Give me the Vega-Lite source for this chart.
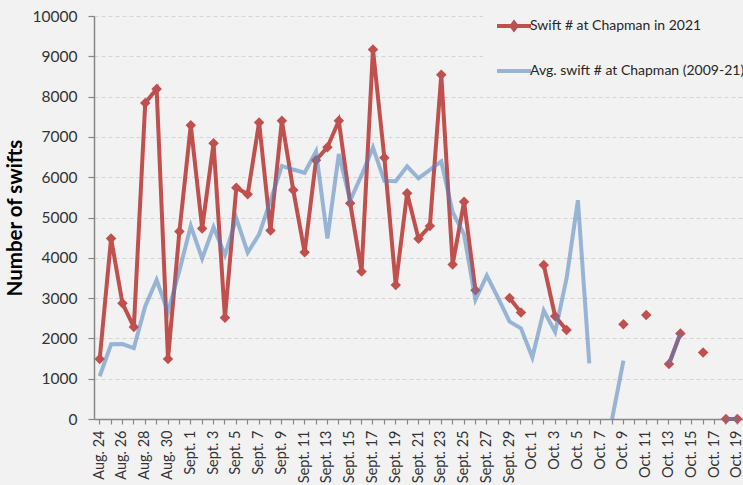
{
  "$schema": "https://vega.github.io/schema/vega-lite/v6.json",
  "width": 649,
  "height": 403,
  "autosize": {"type": "none"},
  "padding": {"left": 94, "top": 16, "right": 0, "bottom": 66},
  "background": "#f2f2f2",
  "config": {
    "view": {"stroke": null},
    "font": "Lato",
    "axis": {
      "domainColor": "#878787",
      "domainWidth": 1.5,
      "tickColor": "#878787",
      "tickWidth": 1.2,
      "labelColor": "#333333",
      "labelFont": "Lato",
      "titleFont": "Lato"
    },
    "axisX": {
      "labelAngle": -90,
      "labelFontSize": 14.5,
      "tickSize": 5,
      "labelPadding": 6,
      "grid": false,
      "tickOffset": -5.69
    },
    "axisY": {
      "labelFontSize": 15.5,
      "tickSize": 6,
      "labelPadding": 11,
      "grid": true,
      "gridColor": "#d4d4d4",
      "gridDash": [4, 3],
      "gridWidth": 1,
      "titleFontSize": 20.5,
      "titleFontWeight": "bold",
      "titleColor": "#000000",
      "titlePadding": 7
    }
  },
  "data": {
    "values": [
      {"day": "Aug. 24", "y2021": 1490, "avg": 1060},
      {"day": "Aug. 25", "y2021": 4480, "avg": 1855},
      {"day": "Aug. 26", "y2021": 2870, "avg": 1860},
      {"day": "Aug. 27", "y2021": 2280, "avg": 1760},
      {"day": "Aug. 28", "y2021": 7840, "avg": 2800},
      {"day": "Aug. 29", "y2021": 8190, "avg": 3450},
      {"day": "Aug. 30", "y2021": 1490, "avg": 2660},
      {"day": "Aug. 31", "y2021": 4650, "avg": 3680},
      {"day": "Sept. 1", "y2021": 7290, "avg": 4790},
      {"day": "Sept. 2", "y2021": 4730, "avg": 3980},
      {"day": "Sept. 3", "y2021": 6840, "avg": 4760},
      {"day": "Sept. 4", "y2021": 2510, "avg": 4070},
      {"day": "Sept. 5", "y2021": 5740, "avg": 4980},
      {"day": "Sept. 6", "y2021": 5575, "avg": 4130},
      {"day": "Sept. 7", "y2021": 7360, "avg": 4580},
      {"day": "Sept. 8", "y2021": 4680, "avg": 5420},
      {"day": "Sept. 9", "y2021": 7400, "avg": 6280},
      {"day": "Sept. 10", "y2021": 5680, "avg": 6190},
      {"day": "Sept. 11", "y2021": 4135, "avg": 6110},
      {"day": "Sept. 12", "y2021": 6420, "avg": 6640},
      {"day": "Sept. 13", "y2021": 6745, "avg": 4480},
      {"day": "Sept. 14", "y2021": 7400, "avg": 6575},
      {"day": "Sept. 15", "y2021": 5355, "avg": 5420},
      {"day": "Sept. 16", "y2021": 3660, "avg": 6050},
      {"day": "Sept. 17", "y2021": 9170, "avg": 6740},
      {"day": "Sept. 18", "y2021": 6485, "avg": 5910},
      {"day": "Sept. 19", "y2021": 3325, "avg": 5900},
      {"day": "Sept. 20", "y2021": 5600, "avg": 6270},
      {"day": "Sept. 21", "y2021": 4475, "avg": 5970},
      {"day": "Sept. 22", "y2021": 4790, "avg": 6180},
      {"day": "Sept. 23", "y2021": 8540, "avg": 6390},
      {"day": "Sept. 24", "y2021": 3835, "avg": 5130},
      {"day": "Sept. 25", "y2021": 5390, "avg": 4580},
      {"day": "Sept. 26", "y2021": 3195, "avg": 2960},
      {"day": "Sept. 27", "y2021": null, "avg": 3560},
      {"day": "Sept. 28", "y2021": null, "avg": 3000},
      {"day": "Sept. 29", "y2021": 3000, "avg": 2415},
      {"day": "Sept. 30", "y2021": 2640, "avg": 2250},
      {"day": "Oct. 1", "y2021": null, "avg": 1530},
      {"day": "Oct. 2", "y2021": 3820, "avg": 2690},
      {"day": "Oct. 3", "y2021": 2550, "avg": 2160},
      {"day": "Oct. 4", "y2021": 2210, "avg": 3480},
      {"day": "Oct. 5", "y2021": null, "avg": 5430},
      {"day": "Oct. 6", "y2021": null, "avg": 1380},
      {"day": "Oct. 7", "y2021": null, "avg": null},
      {"day": "Oct. 8", "y2021": null, "avg": 0},
      {"day": "Oct. 9", "y2021": 2350, "avg": 1450},
      {"day": "Oct. 10", "y2021": null, "avg": null},
      {"day": "Oct. 11", "y2021": 2580, "avg": null},
      {"day": "Oct. 12", "y2021": null, "avg": null},
      {"day": "Oct. 13", "y2021": 1365, "avg": 1365},
      {"day": "Oct. 14", "y2021": 2120, "avg": 2120},
      {"day": "Oct. 15", "y2021": null, "avg": null},
      {"day": "Oct. 16", "y2021": 1650, "avg": null},
      {"day": "Oct. 17", "y2021": null, "avg": null},
      {"day": "Oct. 18", "y2021": 0, "avg": 0},
      {"day": "Oct. 19", "y2021": 0, "avg": 0}
    ]
  },
  "encoding": {
    "x": {
      "field": "day",
      "type": "ordinal",
      "sort": null,
      "scale": {"type": "band", "paddingInner": 0, "paddingOuter": 0},
      "axis": {
        "title": null,
        "labelExpr": "isString(datum.value) && ((indexof(datum.value, 'Aug') == 0) == (toNumber(slice(datum.value, lastindexof(datum.value, ' ') + 1)) % 2 == 0)) ? datum.label : ''"
      }
    }
  },
  "layer": [
    {
      "mark": {"type": "line", "strokeWidth": 4},
      "encoding": {
        "y": {
          "field": "y2021",
          "type": "quantitative",
          "scale": {"domain": [0, 10000], "nice": false},
          "axis": {"title": "Number of swifts", "values": [0, 1000, 2000, 3000, 4000, 5000, 6000, 7000, 8000, 9000, 10000], "format": "d"}
        },
        "color": {
          "datum": "Swift # at Chapman in 2021",
          "type": "nominal",
          "scale": {
            "domain": ["Swift # at Chapman in 2021", "Avg. swift # at Chapman (2009-21)"],
            "range": ["#C0504D", "#4F81BD"]
          },
          "legend": {
            "title": null,
            "orient": "none",
            "legendX": 389,
            "legendY": -14,
            "padding": 12,
            "fillColor": "#f2f2f2",
            "labelFont": "Lato",
            "labelFontSize": 14,
            "labelColor": "#262626",
            "labelLimit": 400,
            "labelOffset": 11,
            "rowPadding": 21,
            "symbolType": "M-1,0H2.4",
            "symbolSize": 400,
            "symbolStrokeWidth": 4,
            "encode": {
              "symbols": {
                "update": {
                  "shape": {"signal": "datum.value === 'Swift # at Chapman in 2021' ? 'M-1,0H2.4M0.7,-0.32L0.95,0L0.7,0.32L0.45,0Z' : 'M-1,0H2.4'"},
                  "fill": {"signal": "datum.value === 'Swift # at Chapman in 2021' ? '#C0504D' : 'transparent'"},
                  "stroke": {"signal": "datum.value === 'Swift # at Chapman in 2021' ? '#C0504D' : '#4F81BD'"},
                  "strokeWidth": {"value": 4},
                  "opacity": {"signal": "datum.value === 'Swift # at Chapman in 2021' ? 1 : 0.55"}
                }
              }
            }
          }
        }
      }
    },
    {
      "mark": {"type": "point", "shape": "diamond", "filled": true, "size": 110, "opacity": 1},
      "encoding": {
        "y": {"field": "y2021", "type": "quantitative", "axis": {"title": "Number of swifts"}},
        "color": {"datum": "Swift # at Chapman in 2021", "type": "nominal"}
      }
    },
    {
      "mark": {"type": "line", "strokeWidth": 4, "opacity": 0.55},
      "encoding": {
        "y": {"field": "avg", "type": "quantitative", "axis": {"title": "Number of swifts"}},
        "color": {"datum": "Avg. swift # at Chapman (2009-21)", "type": "nominal"}
      }
    }
  ]
}
